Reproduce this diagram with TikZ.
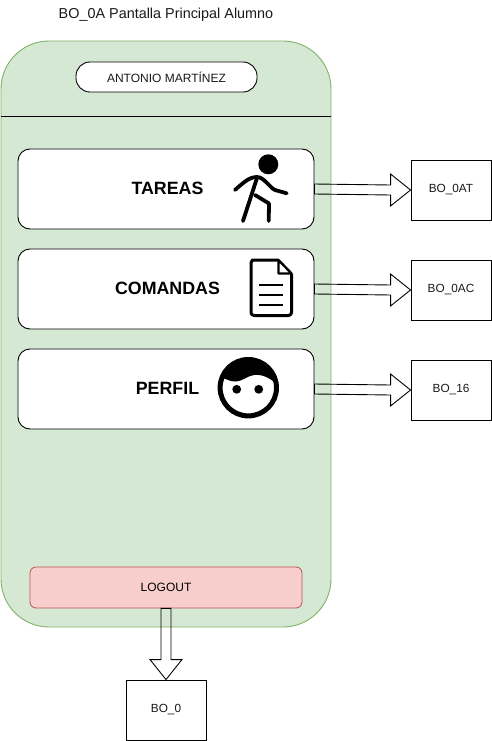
\documentclass[tikz,border=0pt]{standalone}
\usepackage{fontspec}
\setmainfont{Liberation Sans}
\usetikzlibrary{calc}
\definecolor{panelfill}{HTML}{D5E8D4}
\definecolor{panelline}{HTML}{82B366}
\definecolor{redfill}{HTML}{F8CECC}
\definecolor{redline}{HTML}{B85450}
\definecolor{txt}{HTML}{1A1A1A}
\tikzset{
  panel/.style={draw=panelline,fill=panelfill,rounded corners=48pt,line width=.9pt,minimum width=330pt,minimum height=586pt,inner sep=0pt},
  pill/.style={draw=black,fill=white,rounded corners=14pt,line width=.9pt,minimum width=181pt,minimum height=30pt,inner sep=0pt,text=txt,font=\fontsize{12}{14}\selectfont},
  card/.style={draw=black,fill=white,rounded corners=12pt,line width=.9pt,minimum width=296pt,minimum height=80pt,inner sep=0pt},
  cardtext/.style={font=\fontsize{17.8}{20}\selectfont\bfseries,text=black,inner sep=0pt},
  logoutbox/.style={draw=redline,fill=redfill,rounded corners=6pt,line width=.8pt,minimum width=272pt,minimum height=41pt,inner sep=0pt,font=\fontsize{12}{14}\selectfont,text=black},
  screen/.style={draw=black,fill=white,line width=.9pt,minimum width=80pt,minimum height=60pt,inner sep=0pt,font=\fontsize{11.8}{13}\selectfont,text=txt},
  blockarrow/.style={draw=black,line width=.9pt,line join=miter},
  icon/.style={line width=3.8pt,line cap=round,line join=round},
}
\newcommand{\rightblock}[2]{%
  \draw[blockarrow] ($(#1.east)+(0,-5)$) -- ($(#2.west)+(-20,-5)$) -- ($(#2.west)+(-20,-16)$) -- (#2.west)
    -- ($(#2.west)+(-20,16)$) -- ($(#2.west)+(-20,5)$) -- ($(#1.east)+(0,5)$) -- cycle;}
\begin{document}
\begin{tikzpicture}[x=1pt,y=-1pt]
\useasboundingbox (0,0) rectangle (492,741);
\node[font=\fontsize{14.4}{16}\selectfont,text=txt,inner sep=0pt] (title) at (166,15) {BO\_0A Pantalla Principal Alumno};
\node[panel] (main) at (166,334) {};
\coordinate (ruleL) at (1,116);
\coordinate (ruleR) at (331,116);
\draw[black,line width=.9pt] (ruleL) -- (ruleR);
\node[pill] (name) at (166.5,77) {ANTONIO MARTÍNEZ};
\node[card] (c1) at (166,189) {};
\node[card] (c2) at (166,289) {};
\node[card] (c3) at (166,389) {};
\node[cardtext] (t1) at (167.5,188) {TAREAS};
\node[cardtext] (t2) at (167.5,288) {COMANDAS};
\node[cardtext] (t3) at (167.5,388) {PERFIL};
\node[logoutbox] (logout) at (166,587.5) {LOGOUT};
\node[screen] (s1) at (451,190) {BO\_0AT};
\node[screen] (s2) at (451,290) {BO\_0AC};
\node[screen] (s3) at (451,390) {BO\_16};
\node[screen] (s4) at (166,710) {BO\_0};
\rightblock{c1}{s1}
\rightblock{c2}{s2}
\rightblock{c3}{s3}
\draw[blockarrow] ($(logout.south)+(-5,0)$) -- ($(s4.north)+(-5,-20)$) -- ($(s4.north)+(-16,-20)$) -- (s4.north)
  -- ($(s4.north)+(16,-20)$) -- ($(s4.north)+(5,-20)$) -- ($(logout.south)+(5,0)$) -- cycle;
% runner
\fill (268.3,164.3) circle (10);
\draw[icon] (235,190) .. controls (243,183) and (249,177) .. (257,177) .. controls (264,177) and (270,188) .. (275,190) -- (286.7,193.3);
\draw[icon] (257,178) -- (243,221);
\draw[icon] (255,195) -- (269,203.5) -- (268.7,221);
% document
\draw[line width=3pt,line join=round,rounded corners=3pt] (278.5,260) -- (255,260) -- (251,260) -- (251,315.5) -- (291.5,315.5) -- (291.5,273.5);
\draw[line width=2.4pt,line join=round] (278.5,260) -- (291.5,273.5) -- (278.5,273.5) -- cycle;
\draw[line width=2.5pt] (259,285) -- (283,285) (259,295) -- (283,295) (259,305) -- (283,305);
% face
\draw[line width=5pt] (248.3,387.7) circle (28.2);
\fill (220.5,383.8) arc[start angle=188,end angle=352,radius=28.1] .. controls (270,378) and (262,374) .. (254,375) .. controls (247,376) and (243,381) .. (236,381.5) .. controls (230,382) and (225,378) .. (222,378) -- cycle;
\fill (236.7,389.3) circle (4.4);
\fill (258.7,389.3) circle (4.4);
\end{tikzpicture}
\end{document}
